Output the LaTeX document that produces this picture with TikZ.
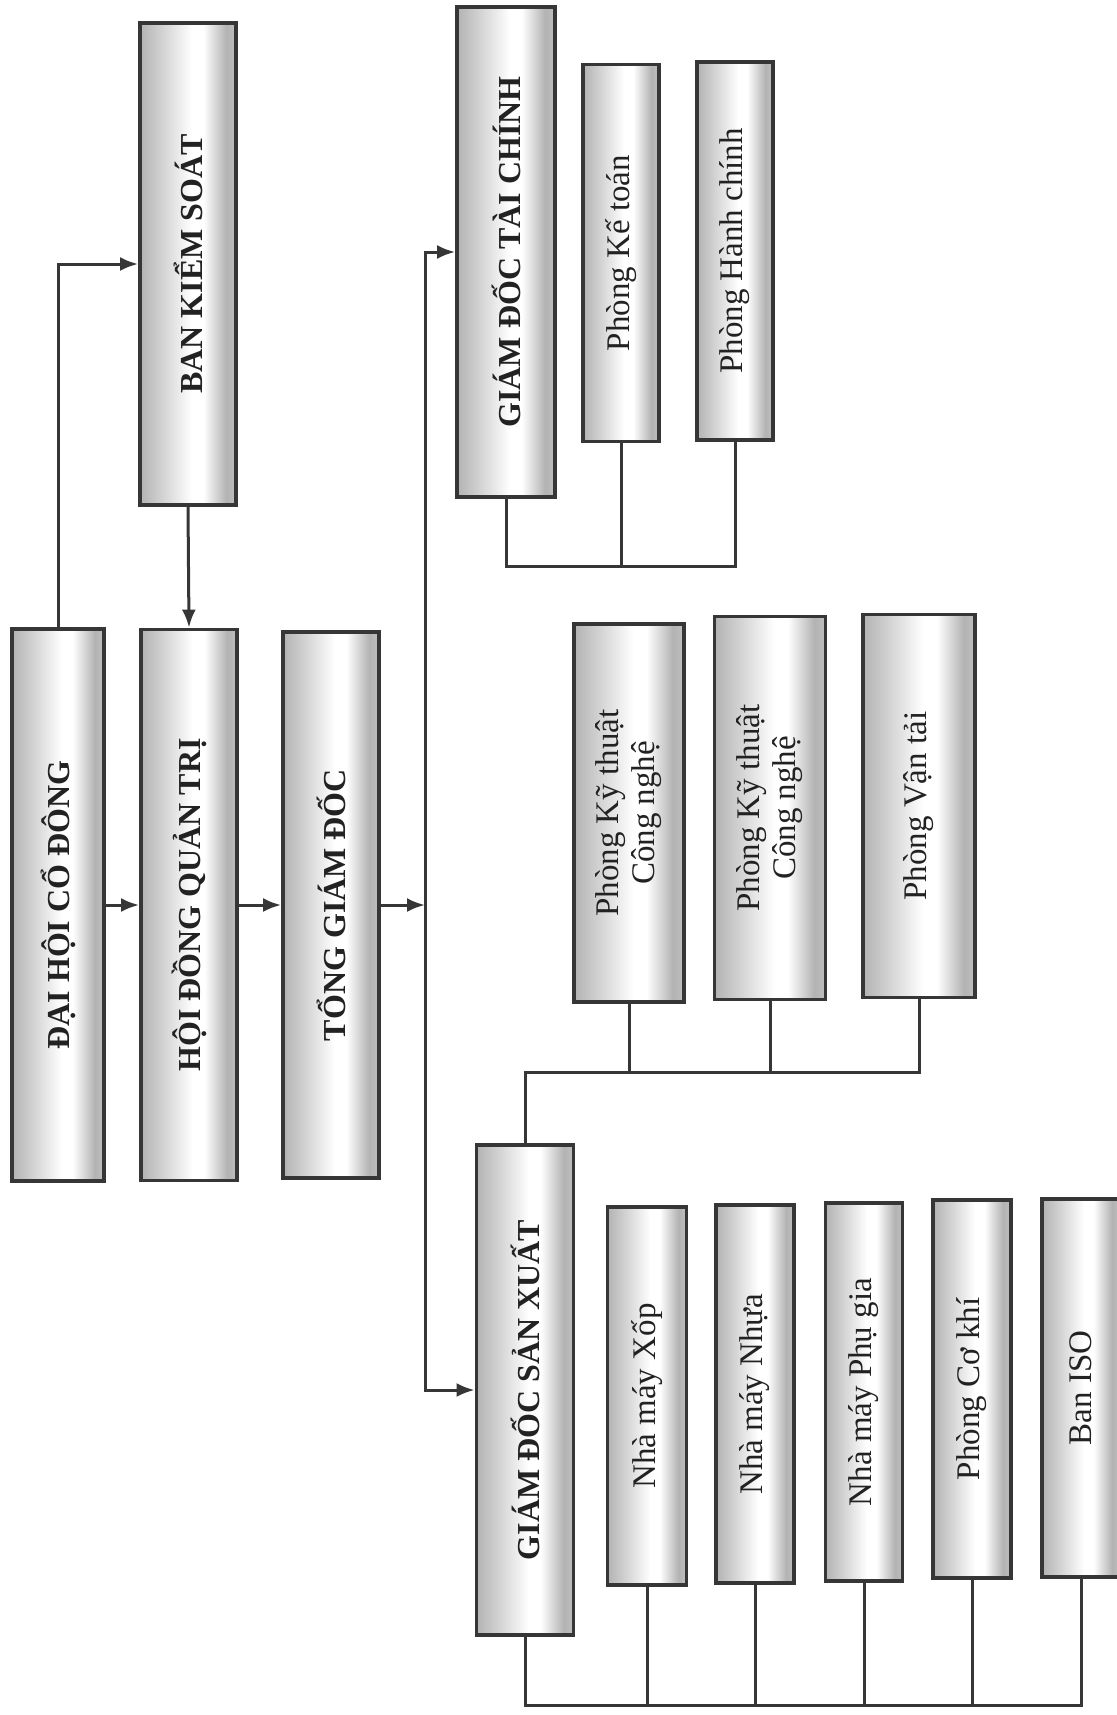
\documentclass[tikz,border=0pt]{standalone}
\usepackage{fontspec}
\setmainfont{Liberation Serif}
\usepackage{graphicx}
\usetikzlibrary{arrows.meta}

\definecolor{edge}{HTML}{363636}
\definecolor{ink}{HTML}{222222}
\pgfdeclarehorizontalshading{pipe}{100bp}{color(0bp)=(black!30); color(25bp)=(black!30); color(36bp)=(black!18); color(52bp)=(white); color(58bp)=(white); color(70bp)=(black!30); color(75bp)=(black!25); color(100bp)=(black!25)}

\begin{document}
\begin{tikzpicture}[
    x=0.5pt, y=-0.5pt,
    unit/.style={draw=edge, line width=1.9pt, shading=pipe, inner sep=0pt, text=ink},
    head/.style={unit, font=\fontsize{16}{18}\selectfont\bfseries},
    dept/.style={unit, font=\fontsize{16.5}{18}\selectfont},
    link/.style={draw=edge, line width=1.5pt},
    arr/.style={link, -{Latex[length=9pt,width=7pt]}},
]

\fill[white] (0,0) rectangle (1117,1715);
\useasboundingbox (0,0) rectangle (1117,1715);

% Top level
\node[head, minimum width=46pt, minimum height=276pt] (dh) at (58,905)
    {\rotatebox{90}{ĐẠI HỘI CỔ ĐÔNG}};
\node[head, minimum width=48pt, minimum height=275.5pt] (hd) at (189,905)
    {\rotatebox{90}{HỘI ĐỒNG QUẢN TRỊ}};
\node[head, minimum width=48pt, minimum height=273pt] (tg) at (331,905)
    {\rotatebox{90}{TỔNG GIÁM ĐỐC}};
\node[head, minimum width=48pt, minimum height=241pt] (bks) at (188,264)
    {\rotatebox{90}{BAN KIỂM SOÁT}};

% Finance branch
\node[head, minimum width=49pt, minimum height=245pt] (gtc) at (506,252)
    {\rotatebox{90}{GIÁM ĐỐC TÀI CHÍNH}};
\node[dept, minimum width=38pt, minimum height=188.5pt] (kt) at (621,253)
    {\rotatebox{90}{Phòng Kế toán}};
\node[dept, minimum width=38pt, minimum height=189pt] (hc) at (735,251)
    {\rotatebox{90}{Phòng Hành chính}};

% Production branch
\node[head, minimum width=48.5pt, minimum height=245pt] (gsx) at (525,1390)
    {\rotatebox{90}{GIÁM ĐỐC SẢN XUẤT}};
\node[dept, minimum width=55pt, minimum height=189pt] (kt1) at (629,813)
    {\rotatebox{90}{\begin{tabular}{@{}c@{}}Phòng Kỹ thuật\\Công nghệ\end{tabular}}};
\node[dept, minimum width=55.5pt, minimum height=191.5pt] (kt2) at (770,808)
    {\rotatebox{90}{\begin{tabular}{@{}c@{}}Phòng Kỹ thuật\\Công nghệ\end{tabular}}};
\node[dept, minimum width=56pt, minimum height=191.5pt] (vt) at (919,806)
    {\rotatebox{90}{Phòng Vận tải}};
\node[dept, minimum width=39.5pt, minimum height=189pt] (xop) at (647,1396)
    {\rotatebox{90}{Nhà máy Xốp}};
\node[dept, minimum width=39pt, minimum height=189pt] (nhua) at (755,1394)
    {\rotatebox{90}{Nhà máy Nhựa}};
\node[dept, minimum width=38.5pt, minimum height=189pt] (pg) at (864,1392)
    {\rotatebox{90}{Nhà máy Phụ gia}};
\node[dept, minimum width=39pt, minimum height=189pt] (ck) at (972,1389)
    {\rotatebox{90}{Phòng Cơ khí}};
\node[dept, minimum width=39pt, minimum height=189pt] (iso) at (1081,1388)
    {\rotatebox{90}{Ban ISO}};

% Arrows
\coordinate (fork) at (425,905);
\draw[arr] (dh.east) -- (hd.west);
\draw[arr] (hd.east) -- (tg.west);
\draw[arr] (tg.east) -- (fork);
\draw[arr] (fork) |- (gtc.west);
\draw[arr] (fork) |- (gsx.west);
\draw[arr] (dh.north) |- (bks.west);
\draw[arr] (bks.south) -- (hd.north);

% Buses
\coordinate (fbus) at (0,566);
\coordinate (tbus) at (0,1072);
\coordinate (pbus) at (0,1705);
\draw[link] (gtc.south) |- (fbus -| hc.south) -- (hc.south);
\draw[link] (kt.south) -- (kt.south |- fbus);
\draw[link] (gsx.north) |- (tbus -| vt.south) -- (vt.south);
\draw[link] (kt1.south) -- (kt1.south |- tbus);
\draw[link] (kt2.south) -- (kt2.south |- tbus);
\draw[link] (gsx.south) |- (pbus -| iso.south) -- (iso.south);
\foreach \n in {xop,nhua,pg,ck}
    \draw[link] (\n.south) -- (\n.south |- pbus);

\end{tikzpicture}
\end{document}
